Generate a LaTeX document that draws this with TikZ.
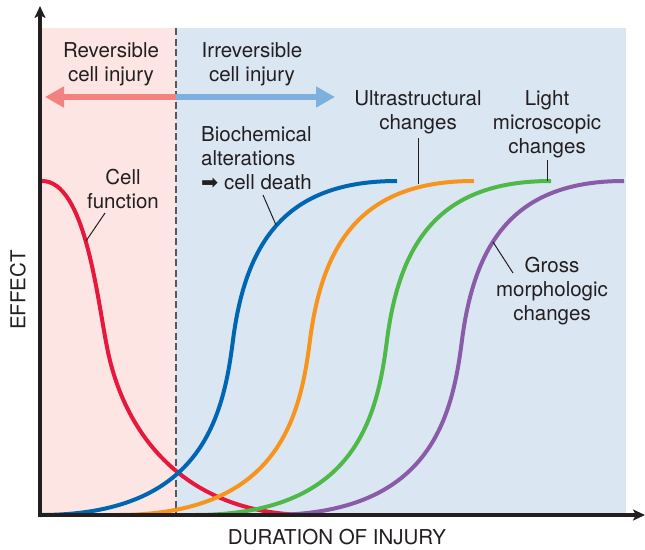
\documentclass[tikz,border=0pt]{standalone}
\usepackage{fontspec}
\setmainfont{TeX Gyre Heros}
\newfontfamily\symfont{DejaVu Sans}
\usetikzlibrary{arrows.meta}

\definecolor{revbg}{RGB}{252,229,227}
\definecolor{irrbg}{RGB}{219,230,243}
\definecolor{revarrow}{RGB}{241,130,128}
\definecolor{irrarrow}{RGB}{125,176,222}
\definecolor{redc}{RGB}{232,24,60}
\definecolor{bluec}{RGB}{0,102,178}
\definecolor{orangec}{RGB}{247,148,30}
\definecolor{greenc}{RGB}{78,184,72}
\definecolor{purplec}{RGB}{138,92,168}
\definecolor{inkc}{RGB}{35,31,32}

\tikzset{
  txt/.style={inner sep=0pt, align=center, text=inkc, font=\fontsize{20.5}{24}\selectfont},
  curve/.style={line width=4pt},
  pointer/.style={line width=1pt, draw=inkc},
  axis/.style={line width=3.5pt, draw=inkc, -{Stealth[length=12pt,width=11pt,inset=3pt]}},
  span/.style={line width=6pt, -{Triangle[length=19pt,width=20pt]}},
}

\begin{document}
\begin{tikzpicture}[x=1pt,y=-1pt]
\useasboundingbox (0,0) rectangle (645,549);

% zones
\fill[revbg] (42,28) rectangle (176,515);
\fill[irrbg] (176,28) rectangle (626,515);
\draw[inkc!75, line width=1.4pt, dash pattern=on 7pt off 3.5pt] (176,28) -- (176,515);

\draw[span, revarrow] (176,97) -- (45,97);
\draw[span, irrarrow] (176,97) -- (335,97);

\node[txt] (rev) at (111,64) {Reversible\\cell injury};
\node[txt] (irr) at (252,64) {Irreversible\\cell injury};

% curves
\draw[curve, redc] (42,181) .. controls (85,181) and (97,297) .. (107,347)
  .. controls (125,440) and (190,515) .. (310,515);
\draw[curve, bluec] (40,515) .. controls (200,515) and (223,420) .. (233,340)
  .. controls (246,240) and (287,181) .. (397,181);
\draw[curve, orangec, xshift=77pt] (40,515) .. controls (200,515) and (223,420) .. (233,340)
  .. controls (246,240) and (287,181) .. (397,181);
\draw[curve, greenc, xshift=154pt] (40,515) .. controls (200,515) and (223,420) .. (233,340)
  .. controls (246,240) and (287,181) .. (397,181);
\draw[curve, purplec, xshift=229pt] (40,515) .. controls (200,515) and (223,420) .. (233,340)
  .. controls (246,240) and (287,181) .. (395,181);

% labels
\node[txt] (cellfn) at (123,189) {Cell\\function};
\node[txt, align=left, anchor=west] (bio) at (201,158) {Biochemical\\alterations\\{\symfont ➡} cell death};
\node[txt] (ultra) at (418,112) {Ultrastructural\\changes};
\node[txt] (light) at (547,124) {Light\\microscopic\\changes};
\node[txt] (gross) at (552,291) {Gross\\morphologic\\changes};

\coordinate (cellfnTop) at (105,213);
\coordinate (cellfnPt) at (86,241);
\coordinate (bioTop) at (263,195);
\coordinate (bioPt) at (276,225);
\coordinate (ultraTop) at (418,138);
\coordinate (ultraPt) at (418,184);
\coordinate (lightTop) at (547,160);
\coordinate (lightPt) at (547,181);
\coordinate (grossTop) at (513,273);
\coordinate (grossPt) at (493,242);
\draw[pointer] (cellfnTop) -- (cellfnPt);
\draw[pointer] (bioTop) -- (bioPt);
\draw[pointer] (ultraTop) -- (ultraPt);
\draw[pointer] (lightTop) -- (lightPt);
\draw[pointer] (grossTop) -- (grossPt);

% axes
\draw[axis] (40,516.75) -- (40,6);
\draw[axis] (38.25,515) -- (645,515);
\node[txt, rotate=90] (effect) at (18,290) {EFFECT};
\node[txt] (duration) at (337,537) {DURATION OF INJURY};
\end{tikzpicture}
\end{document}
